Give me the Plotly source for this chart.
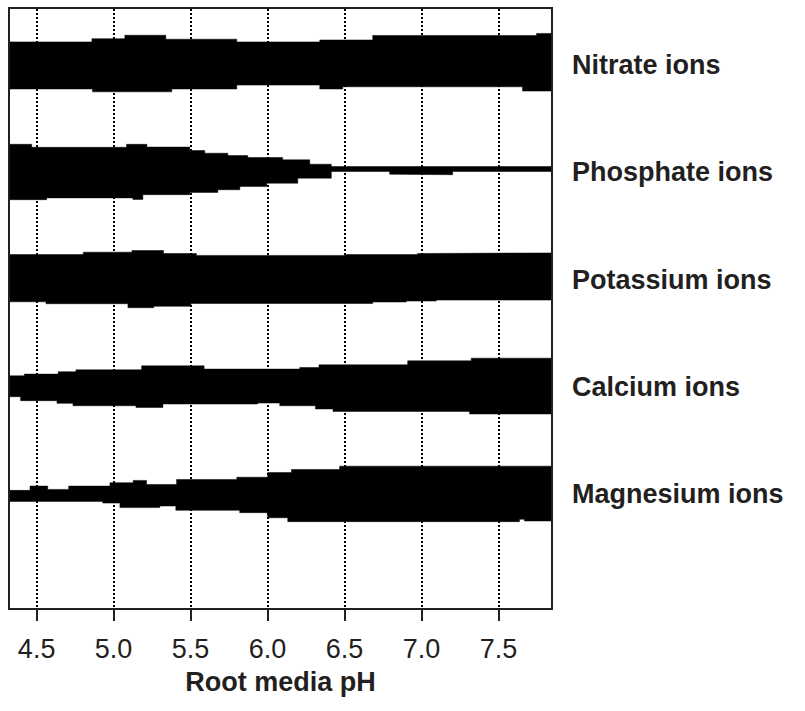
import plotly.graph_objects as go

# ---- data (pH breakpoints and band half-extents, in band units) ----
ions = ["Nitrate ions", "Phosphate ions", "Potassium ions", "Calcium ions", "Magnesium ions"]
centers = [5, 4, 3, 2, 1]
ph_min, ph_max = 4.327, 7.841
tick_vals = [4.5, 5.0, 5.5, 6.0, 6.5, 7.0, 7.5]
tick_text = ["4.5", "5.0", "5.5", "6.0", "6.5", "7.0", "7.5"]

nitrate_top_ph = [4.327, 4.859, 5.073, 5.339, 5.800, 6.339, 6.683, 7.747]
nitrate_top = [0.219, 0.249, 0.281, 0.244, 0.219, 0.237, 0.279, 0.298]
nitrate_bot_ph = [4.327, 4.863, 5.378, 5.800, 6.339, 6.488, 7.656]
nitrate_bot = [0.221, 0.247, 0.221, 0.184, 0.221, 0.200, 0.240]

phosphate_top_ph = [4.327, 4.468, 5.084, 5.216, 5.495, 5.592, 5.742, 5.871, 6.098, 6.274, 6.414]
phosphate_top = [0.263, 0.235, 0.263, 0.237, 0.205, 0.180, 0.158, 0.140, 0.118, 0.077, 0.056]
phosphate_bot_ph = [4.327, 4.565, 5.125, 5.190, 5.495, 5.677, 5.820, 5.995, 6.196, 6.414, 6.793, 7.007, 7.202]
phosphate_bot = [0.254, 0.237, 0.251, 0.207, 0.186, 0.161, 0.130, 0.100, 0.053, -0.009, 0.016, 0.021, -0.009]

potassium_top_ph = [4.327, 4.803, 5.119, 5.324, 5.538, 6.501, 6.975, 7.357]
potassium_top = [0.234, 0.256, 0.272, 0.244, 0.226, 0.234, 0.244, 0.249]
potassium_bot_ph = [4.327, 4.561, 5.093, 5.261, 5.502, 6.683, 6.901, 7.096]
potassium_bot = [0.207, 0.225, 0.262, 0.249, 0.223, 0.209, 0.200, 0.191]

calcium_top_ph = [4.327, 4.420, 4.640, 4.755, 5.182, 5.588, 6.209, 6.334, 6.910, 7.323]
calcium_top = [0.102, 0.118, 0.140, 0.158, 0.195, 0.165, 0.180, 0.205, 0.242, 0.267]
calcium_bot_ph = [4.327, 4.396, 4.632, 4.736, 5.145, 5.320, 5.936, 6.079, 6.311, 6.425, 7.312]
calcium_bot = [0.093, 0.130, 0.155, 0.177, 0.193, 0.161, 0.152, 0.177, 0.207, 0.230, 0.254]

magnesium_top_ph = [4.327, 4.457, 4.572, 4.708, 4.976, 5.127, 5.214, 5.409, 5.800, 6.001, 6.155, 6.468]
magnesium_top = [0.033, 0.073, 0.042, 0.073, 0.104, 0.126, 0.088, 0.135, 0.156, 0.200, 0.228, 0.259]
magnesium_bot_ph = [4.327, 4.930, 5.041, 5.300, 5.404, 5.819, 6.001, 6.131, 7.636, 7.669]
magnesium_bot = [0.070, 0.086, 0.128, 0.113, 0.153, 0.175, 0.223, 0.259, 0.237, 0.253]

bands = [
    (nitrate_top_ph, nitrate_top, nitrate_bot_ph, nitrate_bot),
    (phosphate_top_ph, phosphate_top, phosphate_bot_ph, phosphate_bot),
    (potassium_top_ph, potassium_top, potassium_bot_ph, potassium_bot),
    (calcium_top_ph, calcium_top, calcium_bot_ph, calcium_bot),
    (magnesium_top_ph, magnesium_top, magnesium_bot_ph, magnesium_bot),
]

INK = "#231f20"
FONT = "Liberation Sans, Arial, Helvetica, sans-serif"


def step_edge(ph, vals, c, sign):
    xs, ys = [], []
    ends = list(ph[1:]) + [ph_max]
    for x0, x1, v in zip(ph, ends, vals):
        xs += [x0, x1]
        ys += [c + sign * v, c + sign * v]
    return xs, ys


fig = go.Figure()
for name, c, (tph, top, bph, bot) in zip(ions, centers, bands):
    tx, ty = step_edge(tph, top, c, 1)
    bx, by = step_edge(bph, bot, c, -1)
    fig.add_trace(go.Scatter(
        x=tx + bx[::-1], y=ty + by[::-1],
        mode="lines", fill="toself", fillcolor="black",
        line=dict(color="black", width=0.5),
        name=name, showlegend=False, hoverinfo="skip",
    ))
    fig.add_annotation(
        x=1.035, xref="paper", y=c, yref="y",
        text="<b>%s</b>" % name, showarrow=False,
        xanchor="left", yanchor="middle",
        font=dict(family=FONT, size=27, color=INK),
    )

fig.update_layout(
    width=805, height=711,
    margin=dict(l=10, r=254, t=7, b=103),
    paper_bgcolor="white", plot_bgcolor="white",
    showlegend=False,
    font=dict(family=FONT, color=INK),
)
fig.update_xaxes(
    range=[ph_min, ph_max],
    tickmode="array", tickvals=tick_vals, ticktext=tick_text,
    ticks="outside", ticklen=11, tickwidth=1.5, tickcolor=INK,
    ticklabelstandoff=5,
    tickfont=dict(family=FONT, size=27, color=INK),
    showgrid=True, gridcolor="black", gridwidth=1.5, griddash="1.5px,2.5px",
    showline=True, linecolor=INK, linewidth=1.5, mirror=True,
    zeroline=False,
    title=dict(text="<b>Root media pH</b>", font=dict(family=FONT, size=27, color=INK), standoff=9),
)
fig.update_yaxes(
    range=[-0.065, 5.526],
    showticklabels=False, ticks="", showgrid=False, zeroline=False,
    showline=True, linecolor=INK, linewidth=1.5, mirror=True,
)

fig.write_html("out.html", config={"displayModeBar": False},
               post_script="document.body.style.margin='0px';")
